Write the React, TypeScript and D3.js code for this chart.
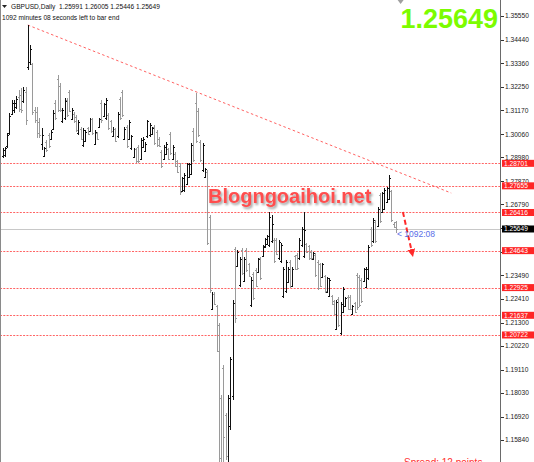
import React from 'react';
import * as d3 from 'd3';

const W = 534;
const H = 462;
const AXIS_X = 500;

const symbolName = 'GBPUSD,Daily';
const timerLine = '1092 minutes 08 seconds left to bar end';
const timerShort = '1092:08';
const spreadText = 'Spread: 12 points';
const watermark = 'Blogngoaihoi.net';

const opens = [
  1.2905, 1.2910, 1.2950, 1.3010, 1.3100, 1.3120, 1.3130, 1.3180, 1.3190, 1.3160,
  1.3200, 1.3320, 1.3340, 1.3330, 1.3120, 1.3110, 1.3060, 1.2960, 1.2905, 1.2970,
  1.3000, 1.2985, 1.3030, 1.3150, 1.3260, 1.3230, 1.3065, 1.3080, 1.3165, 1.3200,
  1.3078, 1.3100, 1.3085, 1.3010, 1.3030, 1.2955, 1.2975, 1.3035, 1.3020, 1.3075,
  1.2960, 1.3010, 1.3040, 1.3150, 1.3090, 1.3080, 1.3095, 1.3065, 1.2998, 1.3030,
  1.2995, 1.3170, 1.3200, 1.2985, 1.3040, 1.2985, 1.2940, 1.2900, 1.2935, 1.2945,
  1.2890, 1.2945, 1.2928, 1.2995, 1.3000, 1.3008, 1.3040, 1.3015, 1.2985, 1.2925,
  1.2890, 1.2915, 1.2935, 1.3005, 1.2890, 1.2915, 1.2880, 1.2860, 1.2742, 1.2745,
  1.2775, 1.2808, 1.2820, 1.3020, 1.3150, 1.3115, 1.2970, 1.2840, 1.2808, 1.2830,
  1.2620, 1.2195, 1.2265, 1.2205, 1.2120, 1.1780, 1.1920, 1.1700, 1.1460, 1.1650,
  1.1790, 1.2470, 1.2395, 1.2305, 1.2465, 1.2325, 1.2465, 1.2400, 1.2210, 1.2355,
  1.2375, 1.2366, 1.2428, 1.2440, 1.2480, 1.2495, 1.2490, 1.2510, 1.2515, 1.2515,
  1.2428, 1.2415, 1.2252, 1.2275, 1.2320, 1.2412, 1.2300, 1.2438, 1.2445, 1.2428,
  1.2490, 1.2440, 1.2495, 1.2485, 1.2460, 1.2425, 1.2445, 1.2412, 1.2400, 1.2342,
  1.2345, 1.2272, 1.2255, 1.2252, 1.2228, 1.2102, 1.2240, 1.2080, 1.2180, 1.2208,
  1.2250, 1.2250, 1.2170, 1.2220, 1.2350, 1.2342, 1.2330, 1.2322, 1.2296, 1.2335,
  1.2565, 1.2508, 1.2598, 1.2580, 1.2722, 1.2645, 1.2660, 1.2692, 1.2705, 1.2740,
  1.2590, 1.25991,
];
const highs = [
  1.2941, 1.2946, 1.3011, 1.3104, 1.3164, 1.3164, 1.3183, 1.3211, 1.3220, 1.3225,
  1.3225, 1.3513, 1.3420, 1.3336, 1.3132, 1.3132, 1.3081, 1.3034, 1.2946, 1.2978,
  1.3011, 1.3025, 1.3118, 1.3164, 1.3281, 1.3243, 1.3127, 1.3174, 1.3174, 1.3211,
  1.3127, 1.3109, 1.3095, 1.3071, 1.3039, 1.3034, 1.3025, 1.3039, 1.3081, 1.3081,
  1.3025, 1.3016, 1.3081, 1.3164, 1.3151, 1.3174, 1.3104, 1.3071, 1.3039, 1.3034,
  1.3109, 1.3178, 1.3211, 1.3039, 1.3048, 1.3071, 1.3002, 1.2941, 1.2941, 1.2955,
  1.2988, 1.2992, 1.2969, 1.3071, 1.3058, 1.3039, 1.3048, 1.3025, 1.2992, 1.2932,
  1.2955, 1.2969, 1.2941, 1.3016, 1.2955, 1.2923, 1.2885, 1.2871, 1.2806, 1.2825,
  1.2871, 1.2871, 1.2965, 1.3034, 1.3197, 1.3127, 1.2978, 1.2965, 1.2848, 1.2839,
  1.2630, 1.2272, 1.2272, 1.2211, 1.2127, 1.1793, 1.1932, 1.1709, 1.1793, 1.1970,
  1.2235, 1.2481, 1.2467, 1.2434, 1.2476, 1.2434, 1.2476, 1.2407, 1.2341, 1.2365,
  1.2383, 1.2430, 1.2434, 1.2490, 1.2523, 1.2537, 1.2644, 1.2630, 1.2523, 1.2523,
  1.2514, 1.2500, 1.2388, 1.2421, 1.2388, 1.2421, 1.2388, 1.2444, 1.2453, 1.2523,
  1.2574, 1.2644, 1.2500, 1.2490, 1.2467, 1.2458, 1.2453, 1.2421, 1.2407, 1.2407,
  1.2351, 1.2341, 1.2337, 1.2258, 1.2235, 1.2235, 1.2249, 1.2226, 1.2295, 1.2249,
  1.2258, 1.2258, 1.2211, 1.2225, 1.2360, 1.2351, 1.2337, 1.2383, 1.2388, 1.2490,
  1.2574, 1.2616, 1.2607, 1.2667, 1.2732, 1.2737, 1.2755, 1.2760, 1.2816, 1.2746,
  1.2597, 1.26005,
];
const lows = [
  1.2895, 1.2899, 1.2941, 1.3002, 1.3095, 1.3104, 1.3123, 1.3109, 1.3104, 1.3151,
  1.3048, 1.3304, 1.3327, 1.3095, 1.3058, 1.2988, 1.2988, 1.2932, 1.2899, 1.2923,
  1.2941, 1.2978, 1.3025, 1.3071, 1.3109, 1.3109, 1.3058, 1.3071, 1.3085, 1.3109,
  1.3071, 1.3058, 1.3016, 1.3002, 1.2978, 1.2946, 1.2969, 1.3002, 1.3016, 1.3002,
  1.2955, 1.2978, 1.3034, 1.3058, 1.3085, 1.3071, 1.3025, 1.3011, 1.2992, 1.2969,
  1.2988, 1.3071, 1.3085, 1.2978, 1.2941, 1.2978, 1.2932, 1.2895, 1.2871, 1.2871,
  1.2885, 1.2941, 1.2923, 1.2988, 1.2992, 1.3002, 1.2955, 1.2946, 1.2946, 1.2848,
  1.2885, 1.2909, 1.2885, 1.2909, 1.2885, 1.2853, 1.2825, 1.2723, 1.2737, 1.2737,
  1.2769, 1.2802, 1.2816, 1.2876, 1.2965, 1.2992, 1.2876, 1.2830, 1.2802, 1.2490,
  1.2267, 1.2188, 1.2211, 1.1993, 1.1444, 1.1407, 1.1420, 1.1491, 1.1444, 1.1630,
  1.1770, 1.2127, 1.2388, 1.2295, 1.2351, 1.2318, 1.2365, 1.2341, 1.2202, 1.2235,
  1.2295, 1.2360, 1.2327, 1.2434, 1.2476, 1.2490, 1.2481, 1.2500, 1.2407, 1.2444,
  1.2421, 1.2407, 1.2244, 1.2267, 1.2313, 1.2290, 1.2295, 1.2374, 1.2374, 1.2421,
  1.2481, 1.2430, 1.2453, 1.2421, 1.2421, 1.2421, 1.2341, 1.2281, 1.2295, 1.2337,
  1.2267, 1.2267, 1.2249, 1.2211, 1.2165, 1.2095, 1.2109, 1.2072, 1.2174, 1.2202,
  1.2188, 1.2188, 1.2165, 1.2174, 1.2188, 1.2202, 1.2221, 1.2318, 1.2290, 1.2327,
  1.2481, 1.2500, 1.2500, 1.2574, 1.2593, 1.2639, 1.2653, 1.2686, 1.2699, 1.2597,
  1.2569, 1.25446,
];
const closes = [
  1.2932, 1.2940, 1.3000, 1.3090, 1.3150, 1.3150, 1.3170, 1.3125, 1.3120, 1.3210,
  1.3070, 1.3340, 1.3400, 1.3110, 1.3070, 1.3010, 1.3000, 1.3000, 1.2940, 1.2930,
  1.2950, 1.3015, 1.3105, 1.3080, 1.3120, 1.3120, 1.3120, 1.3160, 1.3095, 1.3115,
  1.3120, 1.3065, 1.3025, 1.3060, 1.2985, 1.3025, 1.3015, 1.3005, 1.3075, 1.3010,
  1.3015, 1.2985, 1.3075, 1.3070, 1.3145, 1.3165, 1.3035, 1.3020, 1.3030, 1.2975,
  1.3100, 1.3080, 1.3095, 1.3030, 1.2950, 1.3060, 1.2995, 1.2935, 1.2880, 1.2880,
  1.2980, 1.2985, 1.2962, 1.3065, 1.3050, 1.3035, 1.2965, 1.2955, 1.2950, 1.2858,
  1.2948, 1.2962, 1.2892, 1.2918, 1.2948, 1.2860, 1.2832, 1.2735, 1.2800, 1.2818,
  1.2865, 1.2865, 1.2955, 1.2885, 1.2975, 1.3000, 1.2885, 1.2955, 1.2842, 1.2500,
  1.2280, 1.2265, 1.2218, 1.2000, 1.1500, 1.1450, 1.1600, 1.1510, 1.1780, 1.1960,
  1.2220, 1.2150, 1.2460, 1.2425, 1.2360, 1.2425, 1.2372, 1.2348, 1.2330, 1.2245,
  1.2302, 1.2424, 1.2335, 1.2484, 1.2518, 1.2530, 1.2620, 1.2590, 1.2415, 1.2450,
  1.2505, 1.2490, 1.2380, 1.2410, 1.2380, 1.2300, 1.2380, 1.2380, 1.2382, 1.2515,
  1.2565, 1.2560, 1.2458, 1.2428, 1.2428, 1.2452, 1.2350, 1.2290, 1.2302, 1.2400,
  1.2275, 1.2335, 1.2330, 1.2218, 1.2172, 1.2225, 1.2118, 1.2215, 1.2285, 1.2242,
  1.2195, 1.2195, 1.2205, 1.2180, 1.2200, 1.2212, 1.2230, 1.2378, 1.2380, 1.2480,
  1.2490, 1.2605, 1.2508, 1.2660, 1.2600, 1.2730, 1.2748, 1.2755, 1.2800, 1.2605,
  1.2575, 1.25649,
];

const levelPrices = [1.28701, 1.27655, 1.26416, 1.24643, 1.22925, 1.21637, 1.20722];
const axisTicks = [
  1.3555, 1.3444, 1.3336, 1.3225, 1.3117, 1.3006, 1.2898, 1.2787, 1.2679, 1.2571,
  1.246, 1.2349, 1.2241, 1.213, 1.2022, 1.1911, 1.1803, 1.1692, 1.1584,
];
const trendBars = [11, 195];
const trendPrices = [1.3513, 1.2732];
const arrowBars = [174, 178];
const arrowPrices = [1.2644, 1.2453];

export default function App() {
  const n = closes.length;
  const last = n - 1;
  const x = d3.scaleLinear().domain([0, last]).range([2.5, 396]);
  const y = d3.scaleLinear().domain([1.3555, 1.1584]).range([16, 440]);
  const lastPrice = closes[last];
  const fmt = (v: number) => v.toFixed(5);
  const px = (v: number) => Math.round(v) + 0.5;

  const trendLine = d3.line<number>()
    .x((_, i) => x(trendBars[i]))
    .y((d) => y(d));

  const labelFont = "'Liberation Sans', Arial, sans-serif";

  return (
    <svg
      width={W}
      height={H}
      style={{ position: 'fixed', left: 0, top: 0, background: '#fff' }}
      fontFamily={labelFont}
    >
      <defs>
        <clipPath id="plot">
          <rect x={0} y={0} width={AXIS_X} height={H} />
        </clipPath>
        <filter id="shadow" x="-10%" y="-30%" width="120%" height="180%">
          <feDropShadow dx="1.5" dy="2" stdDeviation="1.2" floodColor="#777" floodOpacity="0.7" />
        </filter>
        <marker id="arrowHead" viewBox="0 0 10 10" refX="5" refY="5" markerWidth="4" markerHeight="4" orient="auto">
          <path d="M0,0 L10,5 L0,10 z" fill="#ff2a2a" />
        </marker>
      </defs>
      <rect x={0} y={0} width={W} height={H} fill="#fff" />

      <g clipPath="url(#plot)">
        {/* current price line */}
        <line x1={0} x2={AXIS_X} y1={px(y(lastPrice))} y2={px(y(lastPrice))} stroke="#c8c8c8" strokeWidth={1} />

        {/* level lines */}
        {levelPrices.map((p) => (
          <line key={p} x1={0} x2={AXIS_X} y1={px(y(p))} y2={px(y(p))} stroke="#ff4a4a" strokeWidth={1} strokeDasharray="2 1.3" opacity={0.85} />
        ))}

        {/* trend line */}
        <path d={trendLine(trendPrices) || ''} fill="none" stroke="#ff4545" strokeWidth={1} strokeDasharray="2.5 2.5" opacity={0.85} />

        {/* watermark */}
        <text x={208} y={203} fontSize={20} fontWeight="bold" fill="#ff4d4d" filter="url(#shadow)" fontFamily="'Liberation Sans', Arial, sans-serif">
          {watermark}
        </text>

        {/* OHLC bars */}
        {closes.map((c, i) => {
          const up = c >= opens[i];
          const xi = px(x(i));
          const color = up ? '#111' : '#9a9a9a';
          const sw = up ? 1 : 1.6;
          return (
            <g key={i} stroke={color} strokeWidth={sw} shapeRendering="crispEdges">
              <line x1={xi} x2={xi} y1={y(highs[i])} y2={y(lows[i])} />
              <line x1={xi - 1.5} x2={xi} y1={px(y(opens[i]))} y2={px(y(opens[i]))} strokeWidth={1} />
              <line x1={xi} x2={xi + 1.5} y1={px(y(c))} y2={px(y(c))} strokeWidth={1} />
            </g>
          );
        })}

        {/* projected move arrow */}
        <line
          x1={x(arrowBars[0])}
          y1={y(arrowPrices[0])}
          x2={x(arrowBars[1])}
          y2={y(arrowPrices[1])}
          stroke="#ff2a2a"
          strokeWidth={2}
          strokeDasharray="5 3"
          markerEnd="url(#arrowHead)"
        />

        {/* timer */}
        <text x={x(last) + 1} y={y(lastPrice) + 8} fontSize={8.5} fill="#5a6ee8" fontFamily="'Liberation Sans', Arial, sans-serif">
          {'< ' + timerShort}
        </text>

        {/* big price */}
        <text x={498} y={28} textAnchor="end" fontSize={27} fontWeight="bold" fill="#7cfc00">
          {fmt(lastPrice)}
        </text>

        {/* spread */}
        <text x={404} y={466} fontSize={10} fill="#ff3030">
          {spreadText}
        </text>

        {/* chart shift marker */}
        <path
          d={`M${x(n + 1) - 3},0 L${x(n + 1) + 3},0 L${x(n + 1)},4 Z`}
          fill="#a0a0a0"
        />
      </g>

      {/* header */}
      <path d="M2,5 L7,5 L4.5,8 Z" fill="#222" />
      <text x={11} y={9} fontSize={6.6} fill="#111" style={{ whiteSpace: 'pre' }}>
        {`${symbolName}  ${fmt(opens[last])} ${fmt(highs[last])} ${fmt(lows[last])} ${fmt(closes[last])}`}
      </text>
      <text x={2} y={19.5} fontSize={6.6} fill="#111">
        {timerLine}
      </text>

      {/* frame */}
      <line x1={0.5} x2={0.5} y1={0} y2={H} stroke="#8a8a8a" />
      <line x1={AXIS_X + 0.5} x2={AXIS_X + 0.5} y1={0} y2={H} stroke="#6a6a6a" />

      {/* axis ticks */}
      {axisTicks.map((t) => (
        <g key={t}>
          <line x1={AXIS_X + 1} x2={AXIS_X + 4} y1={px(y(t))} y2={px(y(t))} stroke="#333" />
          <text x={AXIS_X + 5} y={y(t) + 2.4} fontSize={6.6} fill="#222">
            {fmt(t)}
          </text>
        </g>
      ))}

      {/* level labels */}
      {levelPrices.map((p) => (
        <g key={p}>
          <rect x={AXIS_X + 2} y={y(p) - 3.5} width={32} height={7} fill="#ff2525" />
          <text x={AXIS_X + 4} y={y(p) + 2.4} fontSize={6.6} fill="#fff">
            {fmt(p)}
          </text>
        </g>
      ))}

      {/* current price label */}
      <rect x={AXIS_X + 2} y={y(lastPrice) - 3.5} width={32} height={7} fill="#000" />
      <text x={AXIS_X + 4} y={y(lastPrice) + 2.4} fontSize={6.6} fill="#fff">
        {fmt(lastPrice)}
      </text>
    </svg>
  );
}
